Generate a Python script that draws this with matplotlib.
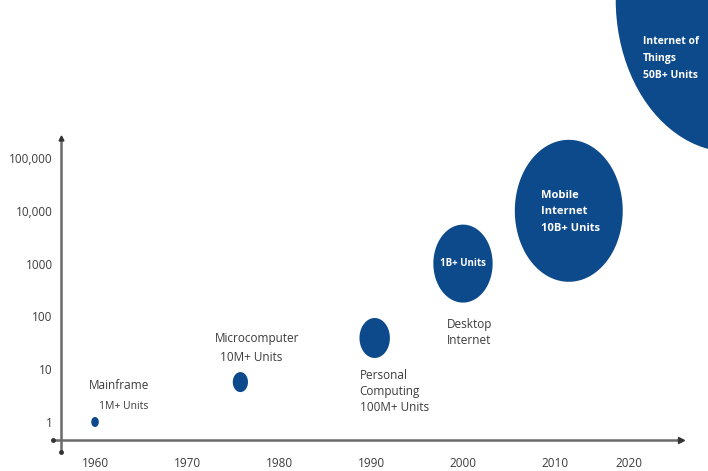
import numpy as np
import matplotlib
matplotlib.use('Agg')
import matplotlib.pyplot as plt
from matplotlib.path import Path

# data
years = [1960, 1975.8, 1990.4, 2000, 2011.5, 2029.2]
units = [1, 5.7, 39, 1000, 10000, 1e8]
bubble_h = [10, 20, 40, 78, 142, 305]   # bubble height in px
xticks = [1960, 1970, 1980, 1990, 2000, 2010, 2018]
xtick_labels = ['1960', '1970', '1980', '1990', '2000', '2010', '2020']
yticks = [1, 10, 100, 1000, 10000, 100000]
ytick_labels = ['1', '10', '100', '1000', '10,000', '100,000']

blue = '#0d4a8c'
grey = '#3c3c3c'
plt.rcParams['font.family'] = ['Open Sans', 'DejaVu Sans']

fig = plt.figure(figsize=(7.08, 4.71), dpi=100)
ax = fig.add_axes([61/708, 31/471, 620/708, 302/471])
ax.set_yscale('log')
ax.set_xlim(1956.3, 2023.7)
ax.set_ylim(10**-0.341, 10**5.379)

# bubbles are a bit taller than wide in the original
t = np.linspace(0, 2*np.pi, 100)
ell = Path(np.column_stack([0.76*np.cos(t), np.sin(t)]), closed=True)
sizes = [(0.72*h)**2 for h in bubble_h]
ax.scatter(years, units, s=sizes, marker=ell, color=blue, linewidths=0,
           clip_on=False, zorder=3)

for sp in ax.spines.values():
    sp.set_visible(False)
ax.set_xticks(xticks)
ax.set_xticklabels(xtick_labels)
ax.set_yticks(yticks)
ax.set_yticklabels(ytick_labels)
ax.minorticks_off()
ax.tick_params(axis='x', length=0, pad=12, labelsize=8.5, labelcolor=grey)
ax.tick_params(axis='y', length=0, pad=6, labelsize=8.5, labelcolor=grey)

# axis lines with small heads
ax.plot([-0.013, 1.0], [0, 0], transform=ax.transAxes, color='#6a6a6a', lw=1.8, clip_on=False)
ax.plot([0, 0], [-0.04, 1.0], transform=ax.transAxes, color='#6a6a6a', lw=1.8, clip_on=False)
ax.plot([1.0], [0], '>', transform=ax.transAxes, color='#333333', ms=4, clip_on=False)
ax.plot([0], [1.0], '^', transform=ax.transAxes, color='#333333', ms=3.5, clip_on=False)
ax.plot([-0.013], [0], 'o', transform=ax.transAxes, color='#333333', ms=2.5, clip_on=False)
ax.plot([0], [-0.04], 'o', transform=ax.transAxes, color='#333333', ms=2.5, clip_on=False)


def note(i, txt, dx, dy, color=grey, size=8.5, weight='normal', ha='left', ls=1.2):
    ax.annotate(txt, (years[i], units[i]), xytext=(dx, dy), textcoords='offset pixels',
                ha=ha, va='center', color=color, fontsize=size, fontweight=weight,
                linespacing=ls, annotation_clip=False, zorder=4)


note(0, 'Mainframe', -6, 36)
note(0, '1M+ Units', 4, 15, size=7.5)
note(1, 'Microcomputer', -26, 44)
note(1, '10M+ Units', -20, 25)
note(2, 'Personal\nComputing\n100M+ Units', -15, -54, ls=1.3)
note(3, 'Desktop\nInternet', -16, -69, ls=1.3)
note(3, '1B+ Units', 0, 0, color='white', size=7, weight='bold', ha='center')
note(4, 'Mobile\nInternet\n10B+ Units', -28, -1, color='white', size=8, weight='bold', ls=1.65)
note(5, 'Internet of\nThings\n50B+ Units', -89, -59, color='white', size=7.5, weight='bold', ls=1.75)

fig.savefig('out.png', dpi=100)
